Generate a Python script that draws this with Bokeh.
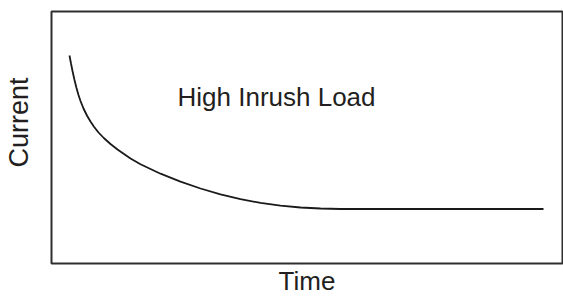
from bokeh.plotting import figure
from bokeh.models import Range1d, Label, Title, LinearAxis, FixedTicker
from bokeh.embed import file_html
from bokeh.resources import INLINE

# Data (arbitrary units: time, current)
time = [18, 19.5, 21, 23, 25, 27, 29, 32, 35.7, 39, 42.3, 47, 52.3, 59, 66, 79, 89, 109,
        129, 149, 169, 189, 209, 229, 249, 269, 289, 492]
current = [208, 200, 192.5, 183.5, 175.5, 168.5, 162.5, 155, 147.5, 142, 137, 131, 125.5,
           119.5, 114, 105, 99.2, 89.8, 81.8, 75, 69.2, 64.4, 60.6, 57.8, 56, 55, 54.5,
           54.5]
title_text = "High Inrush Load"
x_label = "Time"
y_label = "Current"

font = "Liberation Sans"
txt_color = "#231f20"

p = figure(width=563, height=297, output_backend="svg", toolbar_location=None,
           x_range=Range1d(0, 511), y_range=Range1d(0, 252),
           x_axis_location=None, y_axis_location=None,
           min_border_left=51, min_border_right=1, min_border_top=11, min_border_bottom=34)
p.grid.visible = False
p.outline_line_color = "#2e2e2e"
p.outline_line_width = 2
p.background_fill_color = "white"
p.border_fill_color = "white"

p.line(time, current, line_color="#1a1a1a", line_width=1.8)

p.add_layout(Label(x=126, y=167, text=title_text, text_font=font, text_font_size="26px",
                   text_color=txt_color, text_align="left", text_baseline="alphabetic"))


def spacer(size):
    return LinearAxis(ticker=FixedTicker(ticks=[]), axis_line_color=None,
                      major_tick_out=0, major_tick_in=0, minor_tick_out=0,
                      minor_tick_in=0, major_tick_line_color=None,
                      minor_tick_line_color=None, major_label_standoff=0,
                      axis_label=" ", axis_label_text_font_size="1px",
                      axis_label_standoff=size)


xt = Title(text=x_label, align="center", vertical_align="bottom", text_font=font,
           text_font_size="26px", text_color=txt_color, text_font_style="normal",
           standoff=0)
p.add_layout(xt, "below")

p.add_layout(spacer(14), "left")
yt = Title(text=y_label, align="left", vertical_align="bottom", text_font=font,
           text_font_size="27px", text_color=txt_color, text_font_style="normal",
           offset=96, standoff=0)
p.add_layout(yt, "left")

open("out.html", "w").write(file_html(p, INLINE))
